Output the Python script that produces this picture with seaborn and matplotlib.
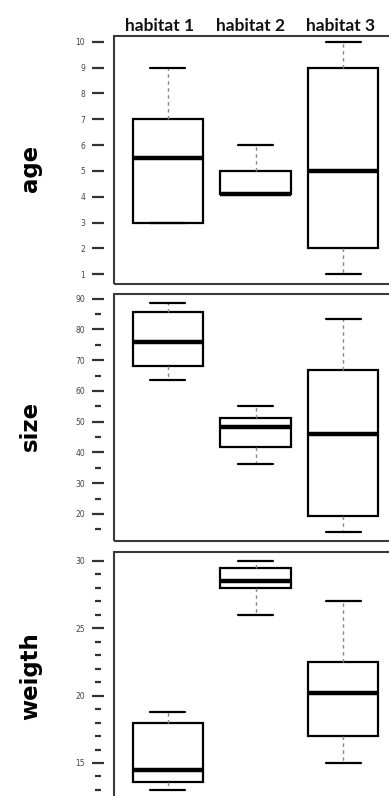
import matplotlib
matplotlib.use("Agg")
import matplotlib.pyplot as plt
from matplotlib.patches import Rectangle
import pandas as pd
import seaborn as sns

habitats = ["habitat 1", "habitat 2", "habitat 3"]

# valores (min, q1, mediana, q3, max) por habitat
age = [
    [3.0, 3.0, 5.5, 7.0, 9.0],
    [4.1, 4.1, 4.1, 5.0, 6.0],
    [1.0, 2.0, 5.0, 9.0, 10.0],
]
size = [
    [63.5, 68.2, 76.0, 85.5, 88.6],
    [36.3, 41.7, 48.4, 51.3, 55.1],
    [14.2, 19.3, 45.9, 66.7, 83.4],
]
weigth = [
    [13.0, 13.6, 14.5, 18.0, 18.8],
    [26.0, 28.0, 28.5, 29.5, 30.0],
    [15.0, 17.0, 20.2, 22.5, 27.0],
]

age_ticks = [1, 2, 3, 4, 5, 6, 7, 8, 9, 10]
size_ticks = [20, 30, 40, 50, 60, 70, 80, 90]
size_minor = [15, 25, 35, 45, 55, 65, 75, 85]
weigth_ticks = [15, 20, 25, 30]
weigth_minor = [12, 13, 14, 16, 17, 18, 19, 21, 22, 23, 24, 26, 27, 28, 29]


def to_frame(values, name):
    rows = []
    for hab, vals in zip(habitats, values):
        for v in vals:
            rows.append({"habitat": hab, name: v})
    return pd.DataFrame(rows)


sns.set_style("white")

W, H = 389, 796
fig = plt.figure(figsize=(W / 100, H / 100), dpi=100)

# paneles: (datos, nombre, ticks, minor, ylim, top_px, bottom_px)
panels = [
    (age, "age", age_ticks, [], (0.62, 10.22), 36, 284),
    (size, "size", size_ticks, size_minor, (11.2, 91.5), 294, 541),
    (weigth, "weigth", weigth_ticks, weigth_minor, (11.81, 30.65), 552, 806),
]
label_y = [168, 426, 676]

left_px, right_px = 114, 397

for (vals, name, ticks, minor, ylim, top, bot), ly in zip(panels, label_y):
    ax = fig.add_axes([left_px / W, 1 - bot / H, (right_px - left_px) / W, (bot - top) / H])
    df = to_frame(vals, name)
    sns.boxplot(
        data=df, x="habitat", y=name, ax=ax,
        color="white", linecolor="black", linewidth=1.6,
        width=0.8, whis=(0, 100), fliersize=0,
        medianprops={"linewidth": 3.2, "color": "black"},
        whiskerprops={"linestyle": (0, (2.5, 2.5)), "color": "#888888", "linewidth": 1.0},
        capprops={"color": "black", "linewidth": 1.6},
    )
    ax.set_xlim(-0.617, 2.617)
    ax.set_ylim(*ylim)
    ax.set_xticks([])
    ax.set_xlabel("")
    ax.set_ylabel("")

    ax.set_yticks(ticks)
    ax.set_yticklabels([str(t) for t in ticks])
    if minor:
        ax.set_yticks(minor, minor=True)
    for s in ax.spines.values():
        s.set_visible(False)
    ax.spines["left"].set_position(("outward", 11.5))
    ax.tick_params(axis="y", which="both", left=True)
    ax.tick_params(axis="y", which="major", direction="inout", length=8.5, width=1.6,
                   color="#333333", labelsize=5.5, labelcolor="#444444", pad=5)
    ax.tick_params(axis="y", which="minor", direction="inout", length=3.8, width=1.6,
                   color="#333333")
    ax.add_patch(Rectangle((0, 0), 1, 1, transform=ax.transAxes, fill=False,
                           edgecolor="#3a3a3a", linewidth=1.5, clip_on=False))

    fig.text(37 / W, 1 - ly / H, name, rotation=90, rotation_mode="anchor",
             ha="center", va="baseline", fontsize=16.5, fontweight="bold",
             family="DejaVu Sans", color="black")

for hab, xp in zip(habitats, [160, 250, 341]):
    fig.text(xp / W, 1 - 31 / H, hab, ha="center", va="baseline", fontsize=12.5,
             fontweight="bold", family="Lato", color="#111111")

fig.savefig("out.png", dpi=100)
